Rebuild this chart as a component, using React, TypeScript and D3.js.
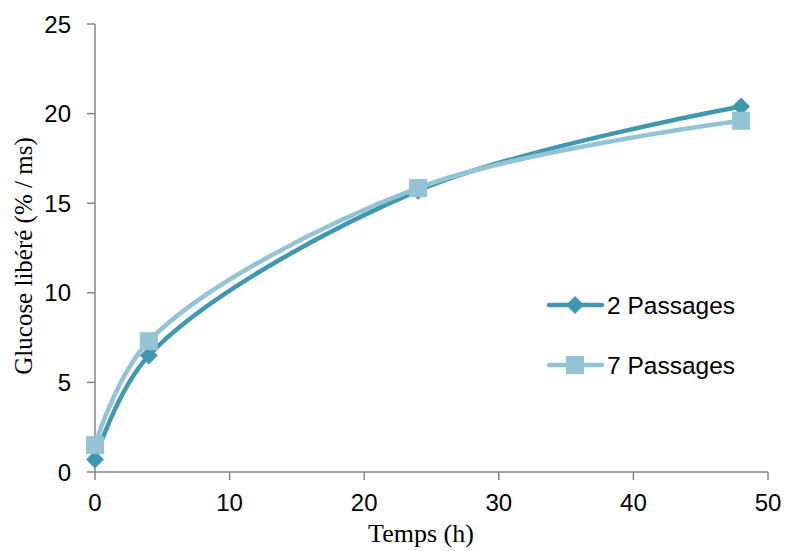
import React from "react";
import * as d3 from "d3";

const hours = [0, 4, 24, 48];
const passages2 = [0.7, 6.5, 15.7, 20.4];
const passages7 = [1.5, 7.3, 15.85, 19.6];
const seriesNames = ["2 Passages", "7 Passages"];
const xTicks = [0, 10, 20, 30, 40, 50];
const yTicks = [0, 5, 10, 15, 20, 25];

const W = 788, H = 551;
const x = d3.scaleLinear().domain([0, 50]).range([95, 768]);
const y = d3.scaleLinear().domain([0, 25]).range([472, 24]);
const C2 = "#3f98b0";
const C7 = "#93c3d5";
const axisColor = "#868686";
const tickFont = "'Liberation Sans', Arial, sans-serif";
const titleFont = "'Liberation Serif', 'Times New Roman', serif";

export default function App() {
  const line = d3
    .line<[number, number]>()
    .x((d) => x(d[0]))
    .y((d) => y(d[1]))
    .curve(d3.curveCatmullRom.alpha(0.5));
  const d2 = hours.map((h, i) => [h, passages2[i]] as [number, number]);
  const d7 = hours.map((h, i) => [h, passages7[i]] as [number, number]);
  const diamond = (cx: number, cy: number, r: number) =>
    `M${cx},${cy - r}L${cx + r},${cy}L${cx},${cy + r}L${cx - r},${cy}Z`;
  const legendY = [305, 365];
  return (
    <svg width={W} height={H} style={{ position: "absolute", left: 0, top: 0 }}>
      <rect width={W} height={H} fill="#fff" />
      {/* axes */}
      <line x1={95} x2={95} y1={y(25)} y2={y(0)} stroke={axisColor} strokeWidth={1.5} />
      <line x1={95} x2={768} y1={y(0)} y2={y(0)} stroke={axisColor} strokeWidth={1.5} />
      {yTicks.map((t) => (
        <g key={"y" + t}>
          <line x1={87} x2={95} y1={y(t)} y2={y(t)} stroke={axisColor} strokeWidth={1.5} />
          <text x={71} y={y(t)} dy="0.36em" textAnchor="end" fontFamily={tickFont} fontSize={24} fill="#000">
            {t}
          </text>
        </g>
      ))}
      {xTicks.map((t) => (
        <g key={"x" + t}>
          <line x1={x(t)} x2={x(t)} y1={y(0)} y2={y(0) + 8} stroke={axisColor} strokeWidth={1.5} />
          <text x={x(t)} y={511} textAnchor="middle" fontFamily={tickFont} fontSize={24} fill="#000">
            {t}
          </text>
        </g>
      ))}
      <text x={421} y={542} textAnchor="middle" fontFamily={titleFont} fontSize={26} fill="#000">
        Temps (h)
      </text>
      <text
        transform={`translate(32,256) rotate(-90)`}
        textAnchor="middle"
        fontFamily={titleFont}
        fontSize={25}
        fill="#000"
      >
        Glucose libéré (% / ms)
      </text>
      {/* series */}
      <path d={line(d2) || ""} fill="none" stroke={C2} strokeWidth={4.5} />
      {d2.map((p, i) => (
        <path key={"m2" + i} d={diamond(x(p[0]), y(p[1]), 9)} fill={C2} />
      ))}
      <path d={line(d7) || ""} fill="none" stroke={C7} strokeWidth={4.5} />
      {d7.map((p, i) => (
        <rect key={"m7" + i} x={x(p[0]) - 9} y={y(p[1]) - 9} width={18} height={18} fill={C7} />
      ))}
      {/* legend */}
      {seriesNames.map((name, i) => (
        <g key={name}>
          <line x1={549} x2={602} y1={legendY[i]} y2={legendY[i]} stroke={i === 0 ? C2 : C7} strokeWidth={4.5} strokeLinecap="round" />
          {i === 0 ? (
            <path d={diamond(575, legendY[i], 9)} fill={C2} />
          ) : (
            <rect x={566} y={legendY[i] - 9} width={18} height={18} fill={C7} />
          )}
          <text x={607} y={legendY[i]} dy="0.36em" fontFamily={tickFont} fontSize={24.5} fill="#000">
            {name}
          </text>
        </g>
      ))}
    </svg>
  );
}
